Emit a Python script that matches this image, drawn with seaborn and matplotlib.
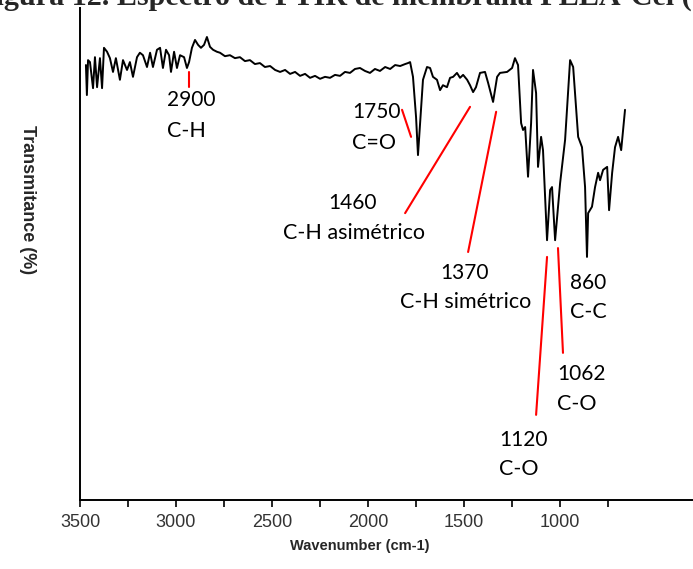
import matplotlib
matplotlib.use("Agg")
import matplotlib.pyplot as plt
import seaborn as sns
from matplotlib.ticker import FixedLocator

# Espectro FTIR
wavenumber = [3469, 3464, 3458, 3448, 3432, 3422, 3411, 3396, 3385, 3375,
              3359, 3344, 3328, 3313, 3292, 3276, 3255, 3240, 3224, 3203,
              3188, 3172, 3151, 3135, 3120, 3099, 3083, 3068, 3052, 3036,
              3026, 3010, 2995, 2979, 2958, 2943, 2932, 2917, 2901, 2885,
              2870, 2854, 2839, 2823, 2807, 2787,
              2771, 2745, 2719, 2693, 2667, 2641, 2615, 2589, 2563, 2537,
              2510, 2484, 2458, 2432, 2406, 2380, 2354, 2328, 2302, 2276,
              2250, 2224, 2198, 2172, 2146, 2120, 2094, 2068, 2042, 2016,
              1990, 1964, 1938, 1911, 1885, 1859, 1833, 1807, 1792, 1781,
              1766, 1750, 1740, 1729, 1714, 1693, 1677, 1662, 1641, 1625,
              1610, 1589, 1573, 1557, 1537, 1521, 1505, 1484, 1469, 1453,
              1438, 1417, 1391, 1375, 1365, 1349, 1328, 1313, 1276, 1250,
              1235, 1219, 1203, 1193, 1182, 1167, 1151, 1141, 1125, 1115,
              1099, 1089, 1068, 1052, 1042, 1026, 1000, 974, 948, 932,
              906, 886, 870, 860, 854, 834, 818, 802, 792, 776,
              755, 745, 729, 714, 698, 682, 672, 662]
transmittance = [88.4, 82.3, 89.4, 89.0, 83.7, 90.0, 83.9, 89.8, 83.7, 91.9,
                 91.1, 89.8, 87.0, 89.8, 85.4, 89.4, 87.4, 89.0, 86.0, 90.0,
                 90.9, 90.4, 88.0, 90.9, 88.0, 91.5, 91.9, 87.8, 91.5, 90.4,
                 87.0, 91.1, 87.8, 90.4, 90.0, 87.8, 89.0, 91.9, 93.5, 92.5,
                 91.9, 92.5, 94.1, 92.1, 91.5, 91.1,
                 90.9, 90.2, 90.4, 89.8, 90.0, 89.2, 89.4, 88.6, 88.8, 88.0,
                 88.2, 87.4, 87.0, 87.4, 86.6, 87.0, 86.2, 86.6, 85.8, 86.2,
                 85.6, 86.0, 85.8, 86.4, 86.2, 87.0, 86.8, 87.6, 87.8, 87.2,
                 86.8, 87.6, 87.2, 88.0, 87.6, 88.4, 88.2, 88.6, 88.8, 89.0,
                 86.0, 77.8, 70.1, 76.6, 85.4, 88.0, 87.8, 86.0, 85.4, 83.3,
                 84.3, 83.9, 85.8, 86.0, 86.8, 85.8, 86.4, 85.4, 84.3, 82.9,
                 83.9, 86.8, 87.0, 84.8, 83.3, 80.9, 86.0, 86.8, 87.0, 87.8,
                 89.8, 88.4, 76.6, 75.2, 75.8, 65.7, 76.6, 87.4, 82.7, 67.7,
                 73.8, 71.1, 52.8, 63.0, 63.6, 52.8, 64.4, 73.2, 89.4, 88.0,
                 73.8, 71.7, 63.6, 49.4, 58.3, 59.6, 63.6, 66.5, 65.0, 67.1,
                 67.7, 58.9, 66.5, 71.7, 73.8, 71.1, 75.2, 79.3]

# Bandas señaladas
band_numbers = ["2900", "1750", "1460", "1370", "1120", "1062", "860"]
band_groups = ["C-H", "C=O", "C-H asimétrico", "C-H simétrico", "C-O", "C-O", "C-C"]

sns.set_style("white")
plt.rcParams["font.family"] = ["Liberation Sans", "DejaVu Sans"]

fig = plt.figure(figsize=(6.93, 5.69), dpi=100)
ax = fig.add_axes([0.1154, 0.1213, 0.8846, 0.8647])

sns.lineplot(x=wavenumber, y=transmittance, sort=False, estimator=None,
             color="black", lw=1.4, ax=ax)

ax.set_xlim(3500, 308)
ax.set_ylim(0, 100)

ax.xaxis.set_major_locator(FixedLocator([3500, 3000, 2500, 2000, 1500, 1000]))
ax.xaxis.set_minor_locator(FixedLocator([3250, 2750, 2250, 1750, 1250, 750]))
ax.tick_params(axis="x", which="both", direction="out", length=5, width=1.2,
               colors="black", labelcolor="#333333", labelsize=13, pad=5, bottom=True)
ax.set_yticks([])

for side in ["top", "right"]:
    ax.spines[side].set_visible(False)
for side in ["left", "bottom"]:
    ax.spines[side].set_color("black")
    ax.spines[side].set_linewidth(1.4)

ax.set_xlabel("Wavenumber (cm-1)", fontsize=10.5, fontweight="bold")
ax.xaxis.set_label_coords(0.457, -0.08)
ylab = ax.set_ylabel("Transmitance (%)", fontsize=13, fontweight="bold", rotation=270)
ylab.set_va("center")
ylab.set_ha("center")
ylab.set_rotation_mode("default")
ax.yaxis.set_label_coords(-0.085, 0.61)

# etiquetas de las bandas (posición de texto en coordenadas de datos)
text_pos = [(3047, 81.3, 75.0), (2083, 78.9, 72.6), (2208, 60.4, 54.3),
            (1625, 46.1, 40.2), (1318, 12.2, 6.3), (1016, 25.6, 19.5),
            (948, 44.1, 38.2)]
group_x = [3047, 2083, 2443, 1833, 1318, 1016, 948]
for num, grp, (tx, ty1, ty2), gx in zip(band_numbers, band_groups, text_pos, group_x):
    ax.text(tx, ty1, num, fontsize=15, family=["Lato", "DejaVu Sans"],
            ha="left", va="center", color="black")
    ax.text(gx, ty2, grp, fontsize=15.5, family=["Lato", "DejaVu Sans"],
            ha="left", va="center", color="black")

# líneas rojas que señalan cada banda
red_lines = [((2932, 87.0), (2932, 83.9)), ((1823, 79.3), (1776, 73.8)),
             ((1807, 58.3), (1469, 79.9)), ((1479, 50.4), (1333, 78.9)),
             ((1068, 49.4), (1125, 17.3)), ((1011, 51.2), (985, 29.9))]
for (x0, y0), (x1, y1) in red_lines:
    ax.plot([x0, x1], [y0, y1], color="#ff0000", lw=1.5)

fig.text(692 / 693, 1 - 5 / 569, "Figura 12. Espectro de FTIR de membrana PLLA-Cel (",
         ha="right", va="baseline", fontsize=21.7, fontweight="bold",
         family=["Liberation Serif", "DejaVu Serif"])

fig.savefig("out.png", dpi=100)
